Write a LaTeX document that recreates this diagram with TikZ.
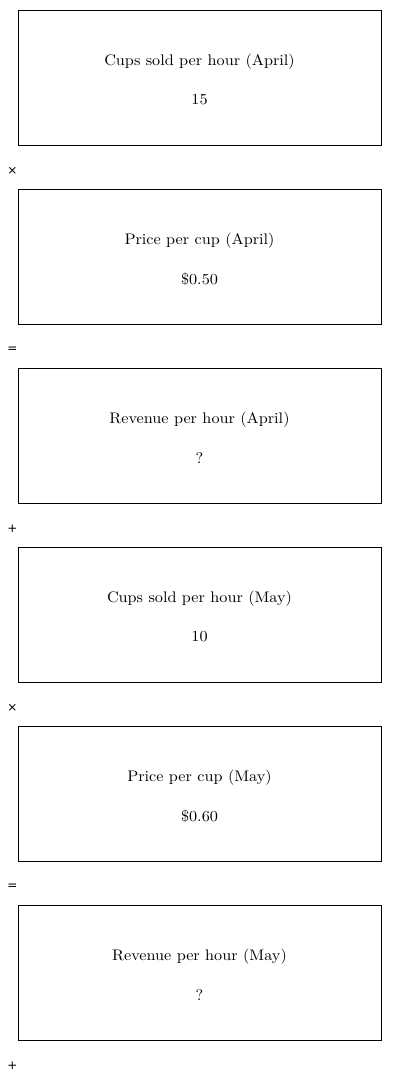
\documentclass[tikz,border=0pt]{standalone}
\usepackage{fontspec}
\newfontfamily\opfont{DejaVu Sans}
\newfontfamily\boxfont[FakeStretch=1.06]{lmroman10-regular.otf}
\usetikzlibrary{positioning}
\tikzset{
  qtybox/.style={draw,line width=0.9pt,minimum width=363pt,minimum height=135pt,inner sep=0pt},
  qtytext/.style={inner sep=0pt,font=\boxfont\fontsize{15.3}{18}\selectfont},
  opsign/.style={inner sep=0pt,font=\opfont\fontsize{12}{14}\selectfont}
}
\begin{document}
\begin{tikzpicture}[x=1pt,y=-1pt]
  \useasboundingbox (0,0) rectangle (400,1082);
  % one box per quantity, operator sign below it
  \foreach \name/\ypos/\title/\val/\op in {
      aprcups/77.5/Cups sold per hour (April)/15/×,
      aprprice/256.5/Price per cup (April)/\$0.50/=,
      aprrev/435.5/Revenue per hour (April)/?/+,
      maycups/614.5/Cups sold per hour (May)/10/×,
      mayprice/793.5/Price per cup (May)/\$0.60/=,
      mayrev/972.5/Revenue per hour (May)/?/+}
  {
    \node[qtybox] (\name) at (199.5,\ypos) {};
    \node[qtytext] (\name-title) at (199.5,{\ypos-16}) {\title};
    \node[qtytext] (\name-val) at (199.5,{\ypos+22.5}) {\val};
    \node[opsign] (\name-op) at (12.5,{\ypos+93.5}) {\op};
  }
\end{tikzpicture}
\end{document}
